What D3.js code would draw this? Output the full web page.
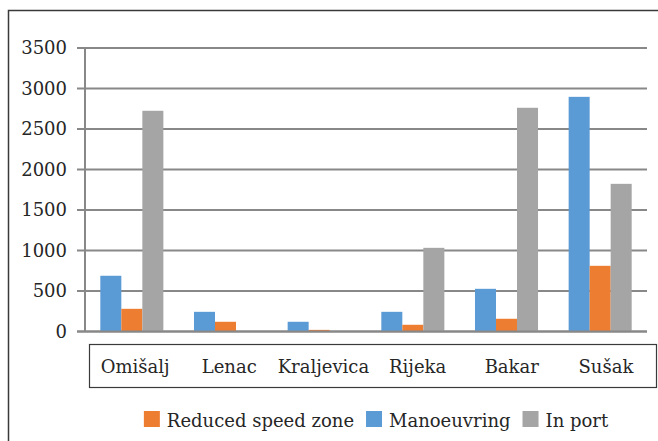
<!DOCTYPE html>
<html>
<head>
<meta charset="utf-8">
<script src="https://cdn.jsdelivr.net/npm/d3@7"></script>
<style>
  body { margin: 0; background: #fff; }
  text { font-family: 'DejaVu Serif', serif; fill: #262626; }
</style>
</head>
<body>
<div id="chart"></div>
<script>
const width = 658
const height = 441

const ports = ['Omišalj', 'Lenac', 'Kraljevica', 'Rijeka', 'Bakar', 'Sušak']
const manoeuvring = [688, 243, 120, 243, 527, 2897]
const reducedSpeed = [280, 120, 20, 83, 157, 811]
const inPort = [2725, 0, 5, 1033, 2762, 1823]
const yTicks = [0, 500, 1000, 1500, 2000, 2500, 3000, 3500]

// drawing order inside a group vs legend order differ in the original
const barSeries = [
  { name: 'Manoeuvring', values: manoeuvring, color: '#5B9BD5' },
  { name: 'Reduced speed zone', values: reducedSpeed, color: '#ED7D31' },
  { name: 'In port', values: inPort, color: '#A5A5A5' }
]
const legendOrder = ['Reduced speed zone', 'Manoeuvring', 'In port']

const svg = d3.select('#chart').append('svg')
  .attr('width', width)
  .attr('height', height)

// outer frame (runs off right and bottom edge)
svg.append('rect')
  .attr('x', 8.5).attr('y', 10.5)
  .attr('width', 680).attr('height', 460)
  .attr('fill', 'none')
  .attr('stroke', '#3a3a3a')
  .attr('stroke-width', 1.5)

const plot = { left: 85, right: 647, top: 48, bottom: 331.5 }

const x0 = d3.scaleBand()
  .domain(ports)
  .range([plot.left, plot.right])
  .paddingInner(0.327)
  .paddingOuter(0.1635)

const x1 = d3.scaleBand()
  .domain(barSeries.map(s => s.name))
  .range([0, x0.bandwidth()])

const y = d3.scaleLinear()
  .domain([0, 3500])
  .range([plot.bottom, plot.top])

const gridColor = '#888888'

// gridlines + tick marks
svg.append('g')
  .selectAll('line')
  .data(yTicks)
  .join('line')
    .attr('x1', plot.left - 8)
    .attr('x2', plot.right)
    .attr('y1', d => y(d))
    .attr('y2', d => y(d))
    .attr('stroke', gridColor)
    .attr('stroke-width', 2)

svg.append('g')
  .selectAll('text')
  .data(yTicks)
  .join('text')
    .attr('x', 67)
    .attr('y', d => y(d))
    .attr('dy', '0.36em')
    .attr('text-anchor', 'end')
    .style('font-size', '18px')
    .text(d => d)

// y axis line
svg.append('line')
  .attr('x1', plot.left).attr('x2', plot.left)
  .attr('y1', plot.top).attr('y2', plot.bottom)
  .attr('stroke', gridColor)
  .attr('stroke-width', 2)

// bars
const groups = svg.append('g')
  .selectAll('g')
  .data(ports)
  .join('g')
    .attr('transform', d => `translate(${x0(d)},0)`)

groups.selectAll('rect')
  .data((d, i) => barSeries.map(s => ({ key: s.name, value: s.values[i], color: s.color })))
  .join('rect')
    .attr('x', d => x1(d.key))
    .attr('width', x1.bandwidth())
    .attr('y', d => y(d.value))
    .attr('height', d => y(0) - y(d.value))
    .attr('fill', d => d.color)

// zero line on top of bars
svg.append('line')
  .attr('x1', plot.left - 8).attr('x2', plot.right)
  .attr('y1', y(0)).attr('y2', y(0))
  .attr('stroke', gridColor)
  .attr('stroke-width', 2)

// category label box
svg.append('rect')
  .attr('x', 89.5).attr('y', 344.5)
  .attr('width', 567).attr('height', 43)
  .attr('fill', 'none')
  .attr('stroke', '#3a3a3a')
  .attr('stroke-width', 1.2)

const xl = d3.scaleBand()
  .domain(ports)
  .range([88, 653])

svg.append('g')
  .selectAll('text')
  .data(ports)
  .join('text')
    .attr('x', d => xl(d) + xl.bandwidth() / 2)
    .attr('y', 373)
    .attr('text-anchor', 'middle')
    .style('font-size', '18px')
    .text(d => d)

// legend
const legend = svg.append('g')
const items = legendOrder.map(name => barSeries.find(s => s.name === name))
let lx = 0
items.forEach((s, i) => {
  const g = legend.append('g').attr('transform', `translate(${lx},0)`)
  g.append('rect')
    .attr('x', 0).attr('y', 411)
    .attr('width', 16).attr('height', 16)
    .attr('fill', s.color)
  const t = g.append('text')
    .attr('x', 23).attr('y', 427)
    .style('font-size', '18px')
    .text(s.name)
  lx += 23 + t.node().getComputedTextLength() + 12
})
const legendWidth = lx - 12
legend.attr('transform', `translate(${376 - legendWidth / 2},0)`)
</script>
</body>
</html>
